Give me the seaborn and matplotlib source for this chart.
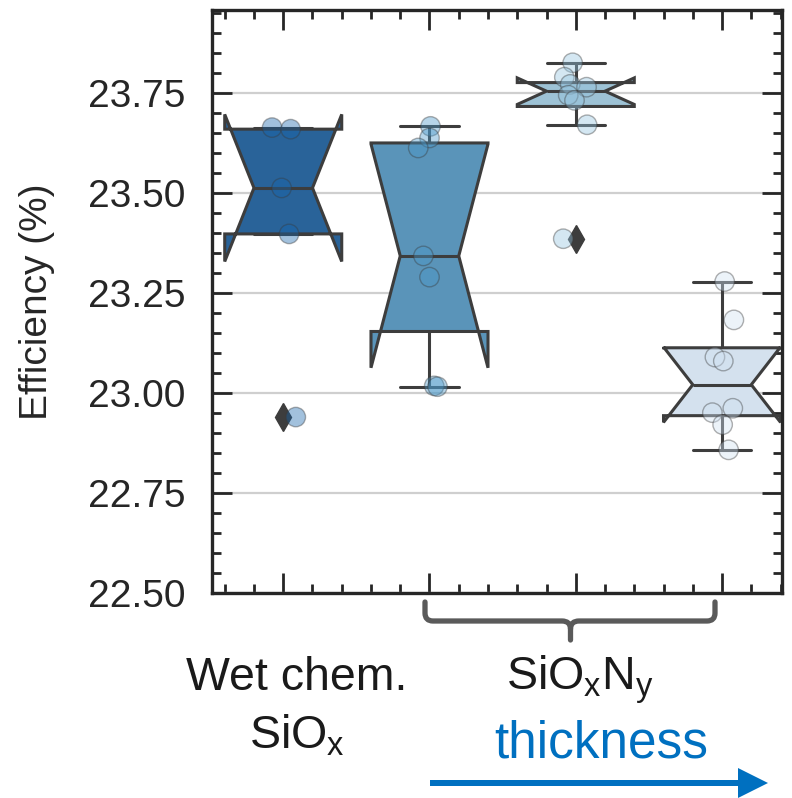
import numpy as np
import pandas as pd
import matplotlib
matplotlib.use("Agg")
import matplotlib.pyplot as plt
import seaborn as sns
from matplotlib.path import Path
from matplotlib.patches import PathPatch, FancyArrow
from matplotlib.ticker import MultipleLocator, FormatStrFormatter

# ---- data ----
groups = ["Wet chem. SiOx", "SiOxNy thin", "SiOxNy medium", "SiOxNy thick"]
eff_wet = [23.664, 23.660, 23.513, 23.398, 22.940]
eff_thin = [23.667, 23.638, 23.613, 23.343, 23.290, 23.018, 23.016]
eff_medium = [23.826, 23.790, 23.772, 23.765, 23.745, 23.732, 23.671, 23.386]
eff_thick = [23.279, 23.183, 23.090, 23.080, 22.962, 22.951, 22.921, 22.858]
y_ticks = [22.50, 22.75, 23.00, 23.25, 23.50, 23.75]

df = pd.DataFrame({
    "group": ([groups[0]] * len(eff_wet) + [groups[1]] * len(eff_thin)
              + [groups[2]] * len(eff_medium) + [groups[3]] * len(eff_thick)),
    "eff": eff_wet + eff_thin + eff_medium + eff_thick,
})

sns.set_theme(style="ticks")
plt.rcParams["font.family"] = ["Liberation Sans", "DejaVu Sans"]
plt.rcParams["mathtext.default"] = "regular"

W, H = 792, 798
fig = plt.figure(figsize=(W / 100, H / 100), dpi=100)
ax = fig.add_axes([212 / W, 1 - 593 / H, (782 - 212) / W, (593 - 10) / H])

line_c = "#3d3d3d"
sns.boxplot(data=df, x="group", y="eff", hue="group", order=groups,
            hue_order=groups, palette="Blues_r", notch=True, width=0.8,
            linewidth=2.2, linecolor=line_c, legend=False, ax=ax,
            flierprops=dict(marker="d", markersize=14,
                            markerfacecolor=line_c, markeredgecolor=line_c))
np.random.seed(7)
sns.stripplot(data=df, x="group", y="eff", hue="group", order=groups,
              hue_order=groups, palette="Blues_r", jitter=0.09, size=14,
              alpha=0.4, edgecolor="gray", linewidth=1, legend=False, ax=ax)

ax.set_xlim(-0.487, 3.41)
ax.set_ylim(22.5, 23.958)
ax.set_yticks(y_ticks)
ax.yaxis.set_major_formatter(FormatStrFormatter("%.2f"))
ax.yaxis.set_minor_locator(MultipleLocator(0.05))
ax.xaxis.set_minor_locator(MultipleLocator(0.2))
ax.set_xticks(range(len(groups)))
ax.set_xticklabels([])
ax.set_xlabel("")
ax.set_ylabel("Efficiency (%)", fontsize=28, labelpad=24, color="#262626")
ax.grid(axis="y", color="#cfcfcf", linewidth=1.6)
ax.set_axisbelow(True)
ax.tick_params(which="both", direction="in", top=True, right=True,
               bottom=True, left=True, color="#262626", width=2)
ax.tick_params(which="major", length=14.5, labelsize=28, pad=19,
               labelcolor="#262626")
ax.tick_params(which="minor", length=6.5)
for s in ax.spines.values():
    s.set_linewidth(2.4)
    s.set_color("#262626")
    s.set_visible(True)

def fx(x):
    return x / W

def fy(y):
    return 1 - y / H

# bracket under the SiOxNy groups
pts = [(425, 602), (425, 613), (425, 621), (433, 621), (562, 621),
       (570.5, 621), (570.5, 629), (570.5, 640),
       (570.5, 629), (570.5, 621), (579, 621), (707, 621), (715, 621),
       (715, 613), (715, 602)]
codes = [Path.MOVETO, Path.LINETO, Path.CURVE3, Path.CURVE3, Path.LINETO,
         Path.CURVE3, Path.CURVE3, Path.LINETO,
         Path.MOVETO, Path.CURVE3, Path.CURVE3, Path.LINETO, Path.CURVE3,
         Path.CURVE3, Path.LINETO]
path = Path([(fx(a), fy(b)) for a, b in pts], codes)
fig.add_artist(PathPatch(path, transform=fig.transFigure, facecolor="none",
                         edgecolor="#5a5a5a", linewidth=3.8,
                         capstyle="round", joinstyle="round"))

txt_kw = dict(ha="center", va="baseline", fontsize=33.5, color="#1a1a1a")
fig.text(fx(297), fy(690), "Wet chem.", **txt_kw)
fig.text(fx(297), fy(748), "SiO$_x$", **txt_kw)
fig.text(fx(580), fy(690), "SiO$_x$N$_y$", **txt_kw)
fig.text(fx(601), fy(758), "thickness", ha="center", va="baseline",
         fontsize=37, color="#0070c0")

fig.add_artist(FancyArrow(fx(430), fy(783), fx(768) - fx(430), 0,
                          width=6 / H, head_width=30 / H, head_length=30 / W,
                          length_includes_head=True, color="#0070c0",
                          linewidth=0, transform=fig.transFigure))

fig.savefig("out.png", dpi=100)
